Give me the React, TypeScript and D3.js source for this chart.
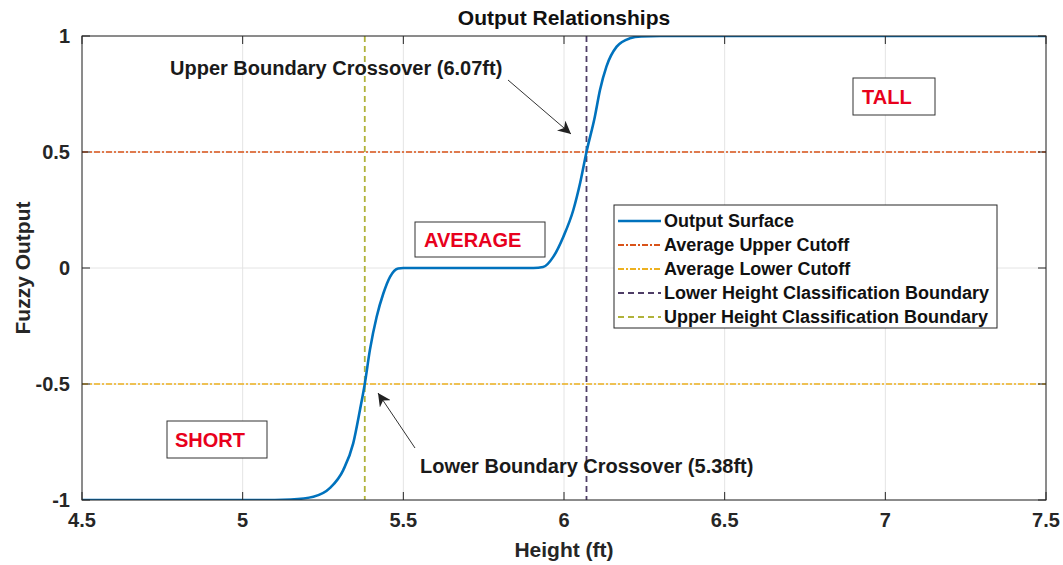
import React from "react";
import * as d3 from "d3";

const heightPts = [4.5, 5.1, 5.15, 5.22, 5.272, 5.313, 5.344, 5.365, 5.38, 5.396, 5.417, 5.438, 5.459, 5.484, 5.5, 5.905, 5.935, 5.967, 5.998, 6.029, 6.05, 6.07, 6.096, 6.112, 6.132, 6.164, 6.205, 6.24, 6.3, 7.5];
const outputPts = [-1, -1, -0.998, -0.986, -0.948, -0.871, -0.756, -0.612, -0.5, -0.353, -0.21, -0.109, -0.037, -0.002, 0, 0, 0.004, 0.049, 0.135, 0.25, 0.365, 0.5, 0.652, 0.767, 0.868, 0.954, 0.99, 0.998, 1, 1];

const xTicks = [4.5, 5, 5.5, 6, 6.5, 7, 7.5];
const yTicks = [-1, -0.5, 0, 0.5, 1];
const upperCutoff = 0.5;
const lowerCutoff = -0.5;
const lowerBoundary = 6.07;
const upperBoundary = 5.38;

const legendLabels = [
  "Output Surface",
  "Average Upper Cutoff",
  "Average Lower Cutoff",
  "Lower Height Classification Boundary",
  "Upper Height Classification Boundary",
];
const legendColors = ["#0072BD", "#D95319", "#EDB120", "#4E3D66", "#B0B23A"];
const legendDash = ["", "6,2,2,2", "6,2,2,2", "6,4", "6,4"];

const W = 1063, H = 565;
const L = 82, R = 1046, T = 36, B = 500;
const FONT = "'Liberation Sans', Arial, Helvetica, sans-serif";

export default function App() {
  const x = d3.scaleLinear().domain([4.5, 7.5]).range([L, R]);
  const y = d3.scaleLinear().domain([-1, 1]).range([B, T]);
  const line = d3
    .line<number>()
    .x((_, i) => x(heightPts[i]))
    .y((d) => y(d))
    .curve(d3.curveMonotoneX);
  const path = line(outputPts) || "";

  return (
    <svg width={W} height={H} style={{ position: "absolute", left: 0, top: 0, background: "#fff" }} fontFamily={FONT}>
      <defs>
        <marker id="arr" viewBox="0 0 10 10" refX="10" refY="5" markerWidth="13" markerHeight="13" markerUnits="userSpaceOnUse" orient="auto">
          <path d="M0,0 L10,5 L0,10 L3,5 z" fill="#222" />
        </marker>
        <clipPath id="clip">
          <rect x={L} y={T} width={R - L} height={B - T} />
        </clipPath>
      </defs>
      <rect x={L} y={T} width={R - L} height={B - T} fill="#fff" />
      {xTicks.map((t) => (
        <line key={"gx" + t} x1={x(t)} x2={x(t)} y1={T} y2={B} stroke="#e4e4e4" strokeWidth={1} />
      ))}
      {yTicks.map((t) => (
        <line key={"gy" + t} x1={L} x2={R} y1={y(t)} y2={y(t)} stroke="#e4e4e4" strokeWidth={1} />
      ))}
      <g clipPath="url(#clip)">
        <line x1={L} x2={R} y1={y(upperCutoff)} y2={y(upperCutoff)} stroke={legendColors[1]} strokeWidth={1.6} strokeDasharray={legendDash[1]} />
        <line x1={L} x2={R} y1={y(lowerCutoff)} y2={y(lowerCutoff)} stroke={legendColors[2]} strokeWidth={1.6} strokeDasharray={legendDash[2]} />
        <line x1={x(lowerBoundary)} x2={x(lowerBoundary)} y1={T} y2={B} stroke={legendColors[3]} strokeWidth={1.8} strokeDasharray={legendDash[3]} />
        <line x1={x(upperBoundary)} x2={x(upperBoundary)} y1={T} y2={B} stroke={legendColors[4]} strokeWidth={1.8} strokeDasharray={legendDash[4]} />
        <path d={path} fill="none" stroke={legendColors[0]} strokeWidth={2.6} />
      </g>
      <rect x={L} y={T} width={R - L} height={B - T} fill="none" stroke="#262626" strokeWidth={1} />
      {xTicks.map((t) => (
        <g key={"tx" + t}>
          <line x1={x(t)} x2={x(t)} y1={B} y2={B - 8} stroke="#262626" />
          <line x1={x(t)} x2={x(t)} y1={T} y2={T + 8} stroke="#262626" />
          <text x={x(t)} y={527} textAnchor="middle" fontSize={20} fontWeight="bold" fill="#262626">{String(t)}</text>
        </g>
      ))}
      {yTicks.map((t) => (
        <g key={"ty" + t}>
          <line x1={L} x2={L + 8} y1={y(t)} y2={y(t)} stroke="#262626" />
          <line x1={R} x2={R - 8} y1={y(t)} y2={y(t)} stroke="#262626" />
          <text x={70} y={y(t) + 7} textAnchor="end" fontSize={20} fontWeight="bold" fill="#262626">{String(t)}</text>
        </g>
      ))}
      <text x={(L + R) / 2} y={25} textAnchor="middle" fontSize={21} fontWeight="bold" fill="#111">Output Relationships</text>
      <text x={(L + R) / 2} y={557} textAnchor="middle" fontSize={21} fontWeight="bold" fill="#262626">Height (ft)</text>
      <text transform={`translate(30,${(T + B) / 2}) rotate(-90)`} textAnchor="middle" fontSize={21} fontWeight="bold" fill="#262626">Fuzzy Output</text>
      <text x={170} y={75} fontSize={20} fontWeight="bold" fill="#1a1a1a">Upper Boundary Crossover (6.07ft)</text>
      <line x1={508} x2={571} y1={80} y2={134} stroke="#333" strokeWidth={1} markerEnd="url(#arr)" />
      <text x={420} y={473} fontSize={20} fontWeight="bold" fill="#1a1a1a">Lower Boundary Crossover (5.38ft)</text>
      <line x1={415} x2={378} y1={448} y2={393} stroke="#333" strokeWidth={1} markerEnd="url(#arr)" />
      <rect x={167} y={421} width={100} height={37} fill="#fff" stroke="#333" />
      <text x={175} y={447} fontSize={20} fontWeight="bold" fill="#e8001c">SHORT</text>
      <rect x={415} y={222} width={130} height={35} fill="#fff" stroke="#333" />
      <text x={424} y={247} fontSize={20} fontWeight="bold" fill="#e8001c">AVERAGE</text>
      <rect x={853} y={78} width={82} height={37} fill="#fff" stroke="#333" />
      <text x={862} y={104} fontSize={20} fontWeight="bold" fill="#e8001c">TALL</text>
      <rect x={614} y={205} width={383} height={123} fill="#fff" stroke="#262626" />
      {legendLabels.map((lab, i) => {
        const cy = 221 + i * 24;
        return (
          <g key={lab}>
            <line x1={618} x2={661} y1={cy} y2={cy} stroke={legendColors[i]} strokeWidth={i === 0 ? 2.6 : 1.8} strokeDasharray={legendDash[i]} />
            <text x={664} y={cy + 6} fontSize={18} fontWeight="bold" fill="#111">{lab}</text>
          </g>
        );
      })}
    </svg>
  );
}
